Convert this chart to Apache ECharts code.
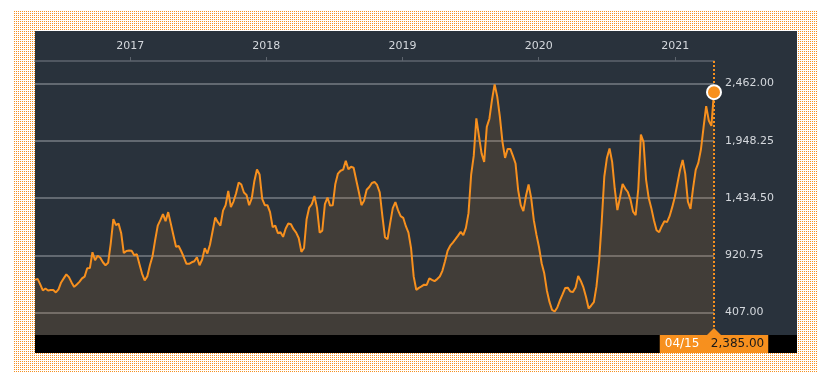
<!DOCTYPE html>
<html>
<head>
<meta charset="utf-8">
<script src="https://cdn.jsdelivr.net/npm/echarts@6/dist/echarts.min.js"></script>
<style>
  html, body { margin: 0; padding: 0; background: #ffffff; }
  #frame { position: absolute; left: 14px; top: 11px; width: 804px; height: 361px;
    background-color: #ffffff;
    background-image: linear-gradient(90deg, rgba(255,255,255,0) 1px, #ffffff 1px),
                      linear-gradient(#f7901e 1px, #ffffff 1px);
    background-size: 2px 2px; }
  #panel { position: absolute; left: 35px; top: 31px; width: 762px; height: 321px; background: #29323c; }
  #bar { position: absolute; left: 35px; top: 335px; width: 762px; height: 18px; background: #000000; }
  #chart { position: absolute; left: 0; top: 0; width: 831px; height: 392px; }
</style>
</head>
<body>
<div id="frame"></div>
<div id="panel"></div>
<div id="bar"></div>
<div id="chart"></div>
<script>
// ---- data (weekly closes) ----
const endDate = '2021-04-15';
const values = [
  700,709,659,605,623,605,609,609,587,614,
  677,713,749,725,677,637,659,682,713,729,
  804,806,948,876,916,898,858,831,853,1026,
  1245,1191,1205,1119,941,960,963,961,921,930,
  840,754,695,731,831,912,1056,1187,1236,1290,
  1227,1308,1205,1101,997,1004,957,903,844,844,
  858,867,903,831,883,984,936,1015,1137,1259,
  1218,1187,1322,1371,1498,1353,1403,1477,1574,1556,
  1484,1462,1371,1432,1588,1691,1646,1428,1371,1371,
  1308,1173,1187,1119,1128,1086,1161,1206,1200,1155,
  1124,1074,952,984,1245,1349,1380,1453,1344,1124,
  1142,1380,1439,1367,1369,1561,1654,1680,1690,1768,
  1693,1716,1707,1597,1489,1371,1410,1509,1534,1570,
  1579,1552,1486,1277,1083,1065,1209,1344,1398,1326,
  1272,1257,1182,1124,984,731,610,628,641,657,
  654,713,700,689,707,730,781,867,961,1007,
  1035,1065,1097,1131,1101,1167,1299,1642,1813,2150,
  1990,1836,1759,2074,2147,2318,2455,2345,2165,1939,
  1795,1876,1876,1813,1745,1507,1371,1317,1453,1556,
  1434,1236,1106,993,849,759,605,502,430,416,
  452,515,569,626,630,596,592,632,735,690,
  632,547,443,470,500,641,867,1218,1628,1795,
  1880,1759,1516,1326,1439,1561,1520,1489,1421,1313,
  1281,1516,2004,1939,1597,1434,1344,1236,1146,1128,
  1182,1227,1218,1272,1353,1444,1565,1687,1777,1651,
  1403,1337,1525,1687,1750,1872,2070,2260,2131,2083,2385
];
const yearTicks = ['2017-01-01','2018-01-01','2019-01-01','2020-01-01','2021-01-01'];
const priceTicks = [407.00, 920.75, 1434.50, 1948.25, 2462.00];
const yMin = 205, yMax = 2665;

// ---- build ----
const DAY = 86400000;
const endTs = Date.parse(endDate + 'T00:00:00Z');
const n = values.length;
const dates = values.map((v, i) => endTs - (n - 1 - i) * 7 * DAY);
const seriesData = values.map((v, i) => [dates[i], v]);
const yearTs = yearTicks.map(d => Date.parse(d + 'T00:00:00Z'));
const lastDate = dates[n - 1], lastVal = values[n - 1];

const ORANGE = '#f7901e';
const TXT = '#d4d8dd';
const FONT = 'DejaVu Sans';
const fmtNum = v => Number(v).toLocaleString('en-US', { minimumFractionDigits: 2, maximumFractionDigits: 2 });
const pad2 = x => (x < 10 ? '0' : '') + x;
const ld = new Date(lastDate);
const lastLabel = '{d|' + pad2(ld.getUTCMonth() + 1) + '/' + pad2(ld.getUTCDate()) + '}   {v|' + fmtNum(lastVal) + '}';

const chart = echarts.init(document.getElementById('chart'), null, { renderer: 'canvas' });
chart.setOption({
  backgroundColor: 'transparent',
  animation: false,
  grid: { left: 35, right: 117, top: 61, bottom: 57 },
  xAxis: {
    type: 'value', position: 'top', min: dates[0], max: lastDate, scale: true,
    axisLine: { show: true, lineStyle: { color: '#5d646d', width: 1.5 } },
    axisTick: { show: true, customValues: yearTs, length: 4, lineStyle: { color: '#5d646d', width: 1 } },
    axisLabel: { customValues: yearTs, formatter: v => String(new Date(v).getUTCFullYear()),
      color: TXT, fontSize: 11, fontFamily: FONT, margin: 9 },
    splitLine: { show: false }
  },
  yAxis: {
    type: 'value', position: 'right', min: yMin, max: yMax,
    axisLine: { show: false },
    axisTick: { show: false, customValues: priceTicks },
    axisLabel: { customValues: priceTicks, formatter: v => fmtNum(v), color: TXT, fontSize: 11, fontFamily: FONT, margin: 11 },
    splitLine: { show: true, lineStyle: { color: '#626971', width: 2 } }
  },
  series: [{
    type: 'line', data: seriesData, showSymbol: false,
    lineStyle: { color: ORANGE, width: 2 },
    areaStyle: { color: 'rgba(247,144,30,0.17)', origin: 'start' },
    markLine: {
      silent: true, symbol: ['none', 'none'], label: { show: false },
      lineStyle: { color: ORANGE, type: [2, 2], width: 2 },
      data: [{ xAxis: lastDate }]
    },
    markPoint: {
      silent: true, label: { show: false },
      data: [
        { coord: [lastDate, lastVal], symbol: 'circle', symbolSize: 14,
          itemStyle: { color: ORANGE, borderColor: '#ffffff', borderWidth: 2 } },
        { coord: [lastDate, yMin], symbol: 'triangle', symbolSize: [14, 7], symbolOffset: [0, -3.5],
          itemStyle: { color: ORANGE } },
        { coord: [lastDate, yMin], symbol: 'rect', symbolSize: 0,
          label: {
            show: true, position: 'bottom', distance: 0, formatter: lastLabel,
            backgroundColor: ORANGE, padding: [2, 4, 2, 5], lineHeight: 14,
            fontFamily: FONT, fontSize: 12,
            rich: {
              d: { color: '#ffffff', fontFamily: FONT, fontSize: 12, lineHeight: 14 },
              v: { color: '#1a1a1a', fontFamily: FONT, fontSize: 12, lineHeight: 14 }
            }
          } }
      ]
    }
  }]
});
</script>
</body>
</html>
